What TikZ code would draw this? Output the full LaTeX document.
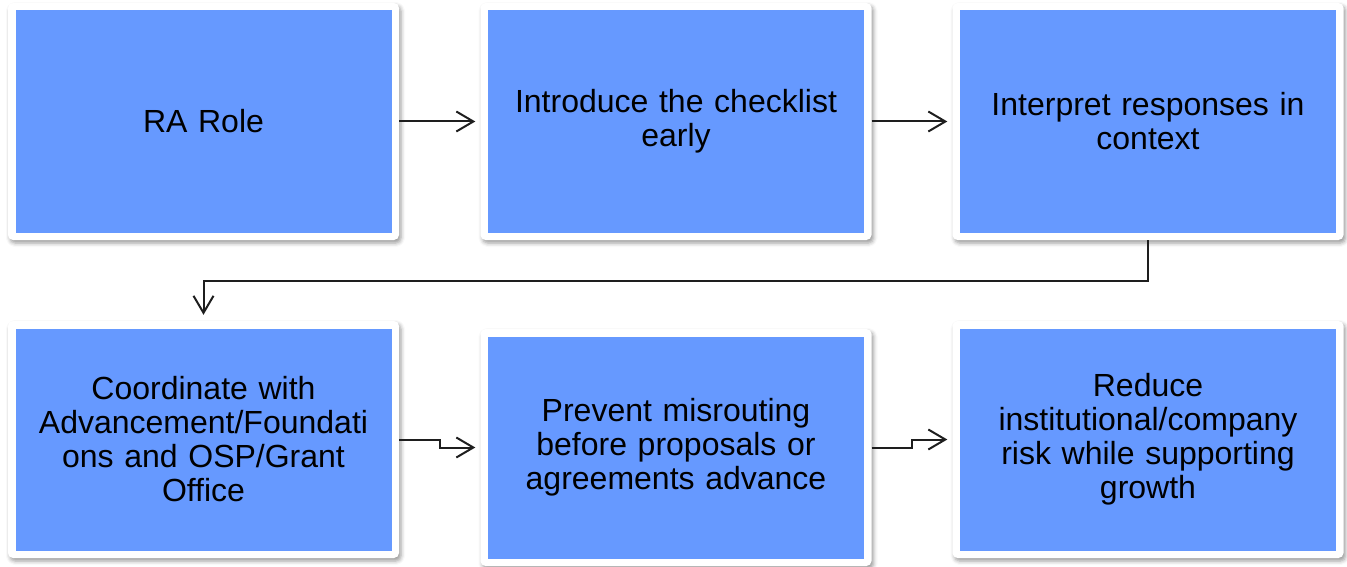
\documentclass[tikz,border=0pt]{standalone}
\usepackage{fontspec}
\setmainfont{Liberation Sans}
\usetikzlibrary{arrows.meta,shadows.blur,calc}
\definecolor{cardblue}{RGB}{102,153,255}
\definecolor{linegray}{RGB}{30,30,30}
\tikzset{
  card/.style={rectangle, rounded corners=5pt, fill=white,
    minimum width=391pt, minimum height=237pt, inner sep=0pt,
    text width=360pt, align=center, font=\fontsize{32}{34}\selectfont,
    blur shadow={shadow xshift=2pt, shadow yshift=-3pt,
      shadow blur radius=4pt, shadow opacity=40},
    path picture={\fill[cardblue, sharp corners]
      ([shift={(7.5pt,7.5pt)}]path picture bounding box.south west)
      rectangle
      ([shift={(-7.5pt,-7.5pt)}]path picture bounding box.north east);}},
  conn/.style={draw=linegray, line width=2pt,
    -{Straight Barb[length=17pt,width=20pt]}, shorten >=5pt},
}
\begin{document}
\begin{tikzpicture}[x=1pt,y=1pt]
\useasboundingbox (0,0) rectangle (1347,-567);

% top row
\node[card] (b1) at (203.5,-121.5) {RA Role};
\node[card] (b2) at (676,-121.5) {Introduce the checklist\\early};
\node[card] (b3) at (1148,-121.5) {Interpret responses in\\context};

% bottom row
\node[card] (b4) at (203.5,-439.5) {Coordinate with\\Advancement/Foundati\\ons and OSP/Grant\\Office};
\node[card] (b5) at (676,-447.5) {Prevent misrouting\\before proposals or\\agreements advance};
\node[card] (b6) at (1148,-439.5) {Reduce\\institutional/company\\risk while supporting\\growth};

% elbow bend points
\coordinate (m34) at ($(b3.south)!.5!(b4.north)$);
\coordinate (m45) at ($(b4.east)!.5!(b5.west)$);
\coordinate (m56) at ($(b5.east)!.5!(b6.west)$);

% connectors
\draw[conn] (b1.east) -- (b2.west);
\draw[conn] (b2.east) -- (b3.west);
\draw[conn, shorten >=6pt] (b3.south) -- (b3.south |- m34) -| (b4.north);
\draw[conn] (b4.east) -| (m45) |- (b5.west);
\draw[conn] (b5.east) -| (m56) |- (b6.west);
\end{tikzpicture}
\end{document}
